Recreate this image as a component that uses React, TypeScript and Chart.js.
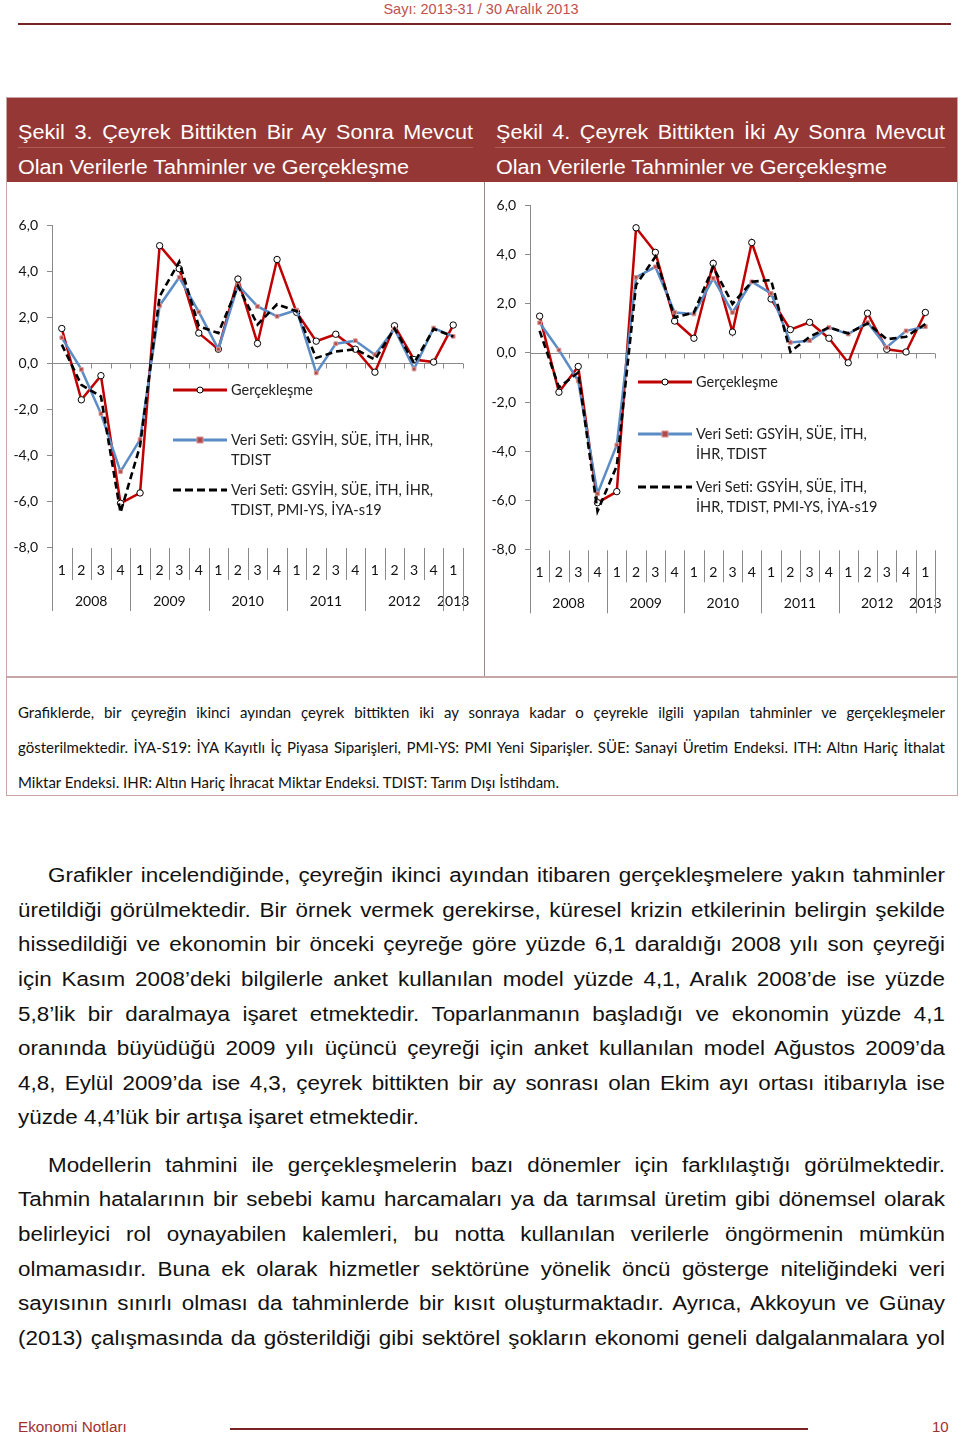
import React, { useEffect, useRef } from "react";
import { Chart, registerables } from "chart.js";

Chart.register(...registerables);

// ---------- DATA ----------
const categories = [
  "2008-1", "2008-2", "2008-3", "2008-4",
  "2009-1", "2009-2", "2009-3", "2009-4",
  "2010-1", "2010-2", "2010-3", "2010-4",
  "2011-1", "2011-2", "2011-3", "2011-4",
  "2012-1", "2012-2", "2012-3", "2012-4",
  "2013-1",
];
const quarterLabels = [
  "1", "2", "3", "4", "1", "2", "3", "4", "1", "2", "3", "4",
  "1", "2", "3", "4", "1", "2", "3", "4", "1",
];
const yearLabels = ["2008", "2009", "2010", "2011", "2012", "2013"];
const quartersPerYear = [4, 4, 4, 4, 4, 1];

const seriesNames = [
  "Gerçekleşme",
  "Veri Seti: GSYİH, SÜE, İTH, İHR, TDIST",
  "Veri Seti: GSYİH, SÜE, İTH, İHR, TDIST, PMI-YS, İYA-s19",
];

// Gerçekleşme (actual growth)
const actual = [
  1.5, -1.6, -0.55, -6.1, -5.65, 5.1, 4.1, 1.3, 0.6, 3.65, 0.85,
  4.5, 2.2, 0.95, 1.25, 0.6, -0.4, 1.62, 0.15, 0.04, 1.65,
];
// Şekil 3 – one month after quarter end
const fig3Set1 = [
  1.1, -0.28, -2.2, -4.72, -3.33, 2.5, 3.72, 2.22, 0.6, 3.38, 2.46,
  2.03, 2.3, -0.43, 0.84, 0.97, 0.36, 1.48, -0.26, 1.52, 1.16,
];
const fig3Set2 = [
  0.8, -0.95, -1.45, -6.5, -3.6, 2.9, 4.4, 1.6, 1.3, 3.35, 1.67,
  2.55, 2.25, 0.22, 0.5, 0.6, 0.15, 1.5, 0.0, 1.48, 1.15,
];
// Şekil 4 – two months after quarter end
const fig4Set1 = [
  1.23, 0.12, -1.14, -5.73, -3.75, 3.08, 3.51, 1.65, 1.59, 3.04, 1.65,
  2.9, 2.43, 0.43, 0.5, 1.04, 0.77, 1.25, 0.23, 0.9, 1.07,
];
const fig4Set2 = [
  0.9, -1.4, -0.8, -6.45, -4.6, 2.77, 3.92, 1.45, 1.65, 3.5, 2.0,
  2.9, 2.97, 0.05, 0.66, 1.04, 0.8, 1.2, 0.56, 0.66, 1.18,
];

const yMin = -8;
const yMax = 6;
const yStep = 2;

// ---------- STYLE ----------
const RED = "#c00000";
const BLUE = "#5b8cc6";
const AXIS = "#8a8a8a";
const CHART_FONT = "Lato";
const BAND = "#953735";

const excelAxisPlugin = {
  id: "excelAxis",
  beforeDatasetsDraw(chart: any) {
    const { ctx, chartArea } = chart;
    const xs = chart.scales.x;
    const ys = chart.scales.y;
    const n = chart.data.labels.length;
    const half = (xs.getPixelForValue(1) - xs.getPixelForValue(0)) / 2;
    const b = (k: number) => xs.getPixelForValue(k) - half;
    const y0 = Math.round(ys.getPixelForValue(0)) + 0.5;
    ctx.save();
    ctx.strokeStyle = AXIS;
    ctx.lineWidth = 1;
    ctx.beginPath();
    ctx.moveTo(chartArea.left, y0);
    ctx.lineTo(chartArea.right, y0);
    for (let k = 1; k <= n; k++) {
      const x = Math.round(b(k)) + 0.5;
      ctx.moveTo(x, y0);
      ctx.lineTo(x, y0 + 5);
    }
    ctx.stroke();
    ctx.restore();
  },
  afterDraw(chart: any) {
    const { ctx, chartArea } = chart;
    const xs = chart.scales.x;
    const n = chart.data.labels.length;
    const half = (xs.getPixelForValue(1) - xs.getPixelForValue(0)) / 2;
    const b = (k: number) => xs.getPixelForValue(k) - half;
    const bottom = chartArea.bottom;
    ctx.save();
    ctx.fillStyle = "#111";
    ctx.font = `14px ${CHART_FONT}`;
    ctx.textAlign = "center";
    ctx.textBaseline = "middle";
    quarterLabels.forEach((q, i) => ctx.fillText(q, xs.getPixelForValue(i), bottom + 23));
    const longs = new Set<number>([0]);
    let s = 0;
    yearLabels.forEach((yl, g) => {
      const e = s + quartersPerYear[g];
      ctx.fillText(yl, (b(s) + b(e)) / 2, bottom + 54);
      longs.add(e);
      s = e;
    });
    ctx.strokeStyle = AXIS;
    ctx.lineWidth = 1;
    ctx.beginPath();
    for (let k = 0; k <= n; k++) {
      const x = Math.round(b(k)) + 0.5;
      ctx.moveTo(x, bottom + 1);
      ctx.lineTo(x, bottom + (longs.has(k) ? 64 : 33));
    }
    ctx.stroke();
    ctx.restore();
  },
};

function makeConfig(set1: number[], set2: number[], padding: any) {
  return {
    type: "line" as const,
    data: {
      labels: categories,
      datasets: [
        {
          label: seriesNames[0],
          data: actual,
          borderColor: RED,
          borderWidth: 2.5,
          pointRadius: 3.2,
          pointBackgroundColor: "#ffffff",
          pointBorderColor: "#000000",
          pointBorderWidth: 1,
          tension: 0,
          order: 2,
        },
        {
          label: seriesNames[1],
          data: set1,
          borderColor: BLUE,
          borderWidth: 2.5,
          pointStyle: "rect",
          pointRadius: 2.6,
          pointBackgroundColor: "#b24a48",
          pointBorderColor: "#d99694",
          pointBorderWidth: 1,
          tension: 0,
          order: 1,
        },
        {
          label: seriesNames[2],
          data: set2,
          borderColor: "#000000",
          borderWidth: 2.6,
          borderDash: [7, 4],
          pointRadius: 0,
          tension: 0,
          order: 0,
        },
      ],
    },
    options: {
      responsive: false,
      animation: false,
      devicePixelRatio: 1,
      layout: { padding },
      plugins: { legend: { display: false }, tooltip: { enabled: false } },
      scales: {
        x: { display: false, offset: true },
        y: {
          min: yMin,
          max: yMax,
          afterFit: (scale: any) => {
            scale.width = 44;
          },
          ticks: {
            stepSize: yStep,
            padding: 9,
            color: "#111",
            font: { family: CHART_FONT, size: 14 },
            callback: (v: any) => Number(v).toFixed(1).replace(".", ","),
          },
          grid: {
            drawOnChartArea: false,
            drawTicks: true,
            tickLength: 5,
            color: AXIS,
          },
          border: { display: true, color: AXIS, width: 1 },
        },
      },
    },
    plugins: [excelAxisPlugin],
  };
}

function LineChart(props: {
  set1: number[];
  set2: number[];
  left: number;
  top: number;
  width: number;
  height: number;
  padding: any;
}) {
  const ref = useRef<HTMLCanvasElement>(null);
  useEffect(() => {
    if (!ref.current) return;
    const chart = new Chart(ref.current, makeConfig(props.set1, props.set2, props.padding) as any);
    return () => chart.destroy();
  }, []);
  return (
    <canvas
      ref={ref}
      width={props.width}
      height={props.height}
      style={{ position: "absolute", left: props.left, top: props.top, width: props.width, height: props.height }}
    />
  );
}

function Sample({ kind, left, y }: { kind: number; left: number; y: number }) {
  return (
    <svg width={54} height={12} style={{ position: "absolute", left, top: y - 6 }}>
      {kind === 0 && (
        <>
          <line x1={0} y1={6} x2={54} y2={6} stroke={RED} strokeWidth={3} />
          <circle cx={27} cy={6} r={3} fill="#fff" stroke="#000" strokeWidth={1} />
        </>
      )}
      {kind === 1 && (
        <>
          <line x1={0} y1={6} x2={54} y2={6} stroke={BLUE} strokeWidth={3} />
          <rect x={24} y={3} width={6} height={6} fill="#b24a48" stroke="#d99694" strokeWidth={1} />
        </>
      )}
      {kind === 2 && (
        <line x1={0} y1={6} x2={54} y2={6} stroke="#000" strokeWidth={3} strokeDasharray="8 4" />
      )}
    </svg>
  );
}

function Legend(props: { sampleLeft: number; textLeft: number; rows: { kind: number; ys: number[]; lines: string[] }[] }) {
  return (
    <>
      {props.rows.map((r, i) => (
        <React.Fragment key={i}>
          <Sample kind={r.kind} left={props.sampleLeft} y={r.ys[0]} />
          {r.lines.map((t, j) => (
            <div
              key={j}
              style={{
                position: "absolute",
                left: props.textLeft,
                top: r.ys[j] - 10,
                height: 20,
                lineHeight: "20px",
                fontFamily: CHART_FONT,
                fontSize: 14.5,
                color: "#222",
                whiteSpace: "nowrap",
              }}
            >
              {t}
            </div>
          ))}
        </React.Fragment>
      ))}
    </>
  );
}

const titleRow1 = ["Şekil 3. Çeyrek Bittikten Bir Ay Sonra Mevcut", "Şekil 4. Çeyrek Bittikten İki Ay Sonra Mevcut"];
const titleRow2 = "Olan Verilerle Tahminler ve Gerçekleşme";

const captionLines = [
  "Grafiklerde, bir çeyreğin ikinci ayından çeyrek bittikten iki ay sonraya kadar o çeyrekle ilgili yapılan tahminler ve gerçekleşmeler",
  "gösterilmektedir. İYA-S19: İYA Kayıtlı İç Piyasa Siparişleri, PMI-YS: PMI Yeni Siparişler. SÜE: Sanayi Üretim Endeksi. ITH: Altın Hariç İthalat",
  "Miktar Endeksi. IHR: Altın Hariç İhracat Miktar Endeksi. TDIST: Tarım Dışı İstihdam.",
];

const para1 = [
  "Grafikler incelendiğinde, çeyreğin ikinci ayından itibaren gerçekleşmelere yakın tahminler",
  "üretildiği görülmektedir. Bir örnek vermek gerekirse, küresel krizin etkilerinin belirgin şekilde",
  "hissedildiği ve ekonomin bir önceki çeyreğe göre yüzde 6,1 daraldığı 2008 yılı son çeyreği",
  "için Kasım 2008’deki bilgilerle anket kullanılan model yüzde 4,1, Aralık 2008’de ise yüzde",
  "5,8’lik bir daralmaya işaret etmektedir. Toparlanmanın başladığı ve ekonomin yüzde 4,1",
  "oranında büyüdüğü 2009 yılı üçüncü çeyreği için anket kullanılan model Ağustos 2009’da",
  "4,8, Eylül 2009’da ise 4,3, çeyrek bittikten bir ay sonrası olan Ekim ayı ortası itibarıyla ise",
  "yüzde 4,4’lük bir artışa işaret etmektedir.",
];
const para2 = [
  "Modellerin tahmini ile gerçekleşmelerin bazı dönemler için farklılaştığı görülmektedir.",
  "Tahmin hatalarının bir sebebi kamu harcamaları ya da tarımsal üretim gibi dönemsel olarak",
  "belirleyici rol oynayabilen kalemleri, bu notta kullanılan verilerle öngörmenin mümkün",
  "olmamasıdır. Buna ek olarak hizmetler sektörüne yönelik öncü gösterge niteliğindeki veri",
  "sayısının sınırlı olması da tahminlerde bir kısıt oluşturmaktadır. Ayrıca, Akkoyun ve Günay",
  "(2013) çalışmasında da gösterildiği gibi sektörel şokların ekonomi geneli dalgalanmalara yol",
];

function TextLine(props: {
  text: string;
  left: number;
  width: number;
  cy: number;
  lh: number;
  font: string;
  size: number;
  color: string;
  justify: boolean;
  sx?: number;
}) {
  const sx = props.sx || 1;
  return (
    <div
      style={{
        position: "absolute",
        left: props.left,
        top: props.cy - props.lh / 2,
        width: props.width / sx,
        height: props.lh,
        lineHeight: `${props.lh}px`,
        fontFamily: props.font,
        fontSize: props.size,
        color: props.color,
        whiteSpace: "nowrap",
        textAlign: props.justify ? "justify" : "left",
        textAlignLast: props.justify ? "justify" : "left",
        transform: sx !== 1 ? `scaleX(${sx})` : undefined,
        transformOrigin: "0 0",
      } as any}
    >
      {props.text}
    </div>
  );
}

export default function App() {
  const body = "'Liberation Sans', Arial, sans-serif";
  const p1y = [875, 910, 944, 979, 1014, 1048, 1083, 1117];
  const p2y = [1165, 1199, 1234, 1269, 1303, 1338];
  return (
    <div style={{ position: "absolute", left: 0, top: 0, width: 960, height: 1435, background: "#fff", overflow: "hidden" }}>
      {/* header */}
      <div
        style={{
          position: "absolute",
          left: 0,
          width: 962,
          top: 0,
          height: 18,
          lineHeight: "18px",
          textAlign: "center",
          fontFamily: body,
          fontSize: 14.5,
          color: "#c0504d",
        }}
      >
        Sayı: 2013-31 / 30 Aralık 2013
      </div>
      <div style={{ position: "absolute", left: 18, top: 23, width: 933, height: 2, background: "#7b2323" }} />

      {/* box */}
      <div style={{ position: "absolute", left: 6, top: 97, width: 950, height: 697, border: "1.5px solid #c6a6a6" }} />
      <div style={{ position: "absolute", left: 7, top: 98, width: 950, height: 84, background: BAND }} />
      <div style={{ position: "absolute", left: 18, top: 147, width: 455, height: 1, background: "rgba(255,255,255,0.18)" }} />
      <div style={{ position: "absolute", left: 495, top: 147, width: 450, height: 1, background: "rgba(255,255,255,0.18)" }} />
      <TextLine text={titleRow1[0]} left={18} width={455} cy={132} lh={30} font={body} size={20} sx={1.08} color="#fff" justify />
      <TextLine text={titleRow2} left={18} width={455} cy={167} lh={30} font={body} size={20} sx={1.08} color="#fff" justify={false} />
      <TextLine text={titleRow1[1]} left={496} width={449} cy={132} lh={30} font={body} size={20} sx={1.08} color="#fff" justify />
      <TextLine text={titleRow2} left={496} width={449} cy={167} lh={30} font={body} size={20} sx={1.08} color="#fff" justify={false} />
      <div style={{ position: "absolute", left: 484, top: 182, width: 1, height: 496, background: "#9a8a8a" }} />
      <div style={{ position: "absolute", left: 7, top: 676, width: 950, height: 2, background: "#c6a6a6" }} />

      {/* charts */}
      <LineChart set1={fig3Set1} set2={fig3Set2} left={8} top={183} width={476} height={494}
        padding={{ left: 0, right: 21, top: 42, bottom: 130 }} />
      <LineChart set1={fig4Set1} set2={fig4Set2} left={486} top={183} width={470} height={494}
        padding={{ left: 0, right: 21, top: 22.7, bottom: 127.7 }} />

      <Legend
        sampleLeft={173}
        textLeft={231}
        rows={[
          { kind: 0, ys: [390], lines: ["Gerçekleşme"] },
          { kind: 1, ys: [440, 460], lines: ["Veri Seti: GSYİH, SÜE, İTH, İHR,", "TDIST"] },
          { kind: 2, ys: [490, 510], lines: ["Veri Seti: GSYİH, SÜE, İTH, İHR,", "TDIST, PMI-YS, İYA-s19"] },
        ]}
      />
      <Legend
        sampleLeft={638}
        textLeft={696}
        rows={[
          { kind: 0, ys: [382], lines: ["Gerçekleşme"] },
          { kind: 1, ys: [434, 454], lines: ["Veri Seti: GSYİH, SÜE, İTH,", "İHR, TDIST"] },
          { kind: 2, ys: [487, 507], lines: ["Veri Seti: GSYİH, SÜE, İTH,", "İHR, TDIST, PMI-YS, İYA-s19"] },
        ]}
      />

      {/* caption */}
      {captionLines.map((t, i) => (
        <TextLine key={i} text={t} left={18} width={927} cy={712 + 35 * i} lh={24} font={CHART_FONT}
          size={15} color="#111" justify={i < 2} />
      ))}

      {/* body text */}
      {para1.map((t, i) => (
        <TextLine key={"a" + i} text={t} left={i === 0 ? 48 : 18} width={i === 0 ? 897 : 927} cy={p1y[i]} lh={30}
          font={body} size={20} sx={1.12} color="#111" justify={i < para1.length - 1} />
      ))}
      {para2.map((t, i) => (
        <TextLine key={"b" + i} text={t} left={i === 0 ? 48 : 18} width={i === 0 ? 897 : 927} cy={p2y[i]} lh={30}
          font={body} size={20} sx={1.12} color="#111" justify />
      ))}

      {/* footer */}
      <div style={{ position: "absolute", left: 18, top: 1418, height: 18, lineHeight: "18px", fontFamily: body, fontSize: 15.3, color: "#a0302e" }}>
        Ekonomi Notları
      </div>
      <div style={{ position: "absolute", left: 230, top: 1428, width: 578, height: 2, background: "#7b2323" }} />
      <div style={{ position: "absolute", left: 932, top: 1418, height: 18, lineHeight: "18px", fontFamily: body, fontSize: 15, color: "#a0302e" }}>
        10
      </div>
    </div>
  );
}
